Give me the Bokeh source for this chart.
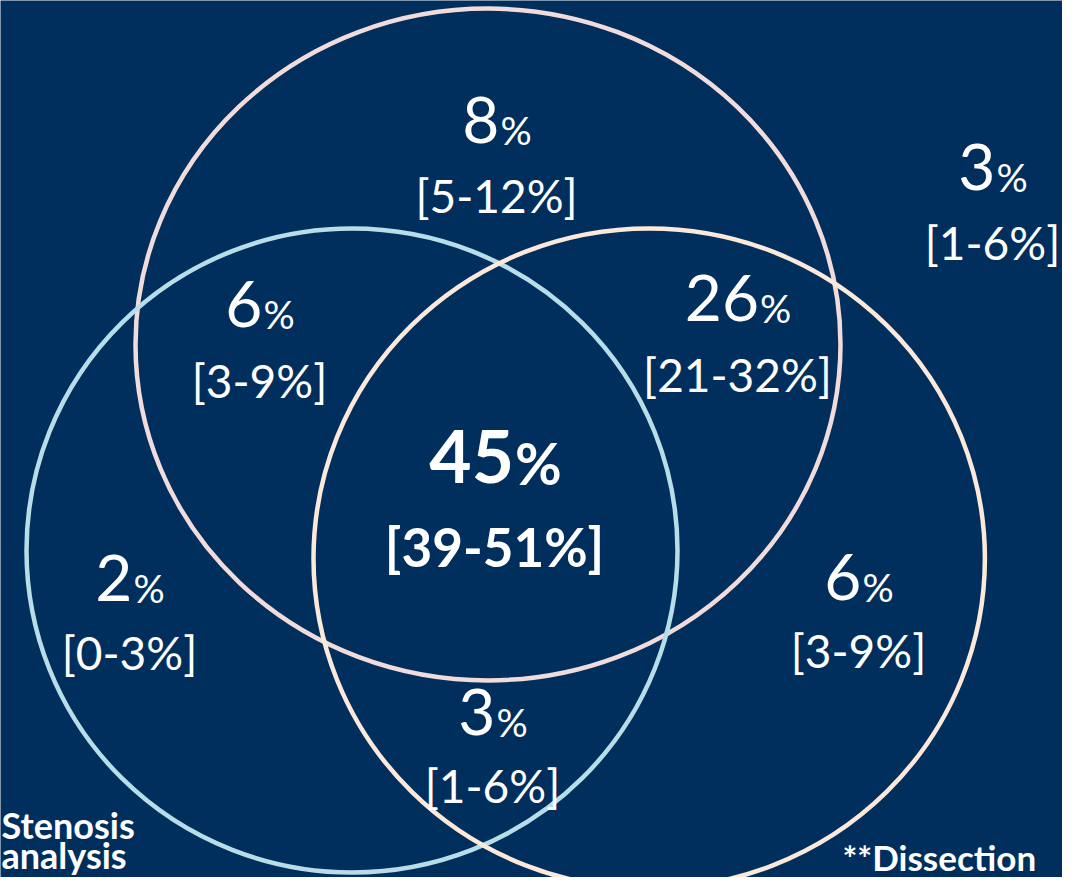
from bokeh.plotting import figure
from bokeh.models import ColumnDataSource, Range1d
from bokeh.core.properties import value
from bokeh.embed import file_html
from bokeh.resources import INLINE

# ---------------- data ----------------
region_names = ["Top only", "None", "Top & Left", "Top & Right", "All three",
                "Left only", "Right only", "Left & Right"]
pct = [8, 3, 6, 26, 45, 2, 6, 3]
ci_low = [5, 1, 3, 21, 39, 0, 3, 1]
ci_high = [12, 6, 9, 32, 51, 3, 9, 6]
emphasis = [False, False, False, False, True, False, False, False]

caption_text = ["Stenosis", "analysis", "**Dissection"]

# ---------------- layout (reference pixel space) ----------------
label_x = [496, 992, 259, 737, 494, 129, 858, 492]
num_base = [145, 192, 329, 323, 485, 603, 602, 737]
ci_base = [213, 260, 398, 392, 567, 670, 668, 803]

circle_cx = [487.5, 351.5, 648.7]
circle_cy = [344, 550, 558]
circle_rx = [352.5, 325.5, 335.7]
circle_ry = [336, 322, 330]
circle_color = ["#f2dcdb", "#b7dee8", "#fde9d9"]

caption_x = [1, 1, 842]
caption_y = [839, 869, 870]
caption_fs = [36, 36, 35]

BG = "#002f5e"
FONT = "Lato"
FIX = 0.4   # empirical baseline correction (fraction of font size)

W, H = 1062, 877
p = figure(width=W, height=H, output_backend="svg", toolbar_location=None,
           x_range=Range1d(0, W), y_range=Range1d(H, 0),
           min_border=0, min_border_left=0, min_border_right=0,
           min_border_top=0, min_border_bottom=0)
p.axis.visible = False
p.grid.visible = False
p.outline_line_color = None
p.background_fill_color = BG
p.border_fill_color = BG

# circles
csrc = ColumnDataSource(dict(x=circle_cx, y=circle_cy,
                             w=[2 * r for r in circle_rx],
                             h=[2 * r for r in circle_ry],
                             c=circle_color))
p.ellipse(x="x", y="y", width="w", height="h", source=csrc,
          fill_alpha=0, line_color="c", line_width=4.5)

# labels
num_x, pct_x, num_y, pct_y, ci_y = [], [], [], [], []
num_txt, pct_txt, ci_txt = [], [], []
num_fs, pct_fs, ci_fs, styles = [], [], [], []
for i, v in enumerate(pct):
    b = emphasis[i]
    fn = 73 if b else 64
    fp = 57 if b else 39
    fc = 53 if b else 46
    wn = len(str(v)) * 0.58 * fn
    wp = 0.80 * fp
    left = label_x[i] - (wn + wp) / 2
    split = left + wn
    num_x.append(split)
    pct_x.append(split + 1)
    num_y.append(num_base[i] - FIX * fn)
    pct_y.append(num_base[i] - FIX * fp)
    ci_y.append(ci_base[i] - FIX * fc)
    num_txt.append(str(v))
    pct_txt.append("%")
    ci_txt.append(f"[{ci_low[i]}-{ci_high[i]}%]")
    num_fs.append(f"{fn}px")
    pct_fs.append(f"{fp}px")
    ci_fs.append(f"{fc}px")
    styles.append("bold" if b else "normal")

src = ColumnDataSource(dict(nx=num_x, px=pct_x, cx=label_x, ny=num_y,
                            py=pct_y, cy=ci_y, nt=num_txt, pt=pct_txt,
                            ct=ci_txt, nfs=num_fs, pfs=pct_fs, cfs=ci_fs,
                            st=styles))
p.text(x="nx", y="ny", text="nt", source=src, text_font=value(FONT),
       text_font_size="nfs", text_font_style="st", text_color="white",
       text_align="right", text_baseline="alphabetic")
p.text(x="px", y="py", text="pt", source=src, text_font=value(FONT),
       text_font_size="pfs", text_font_style="st", text_color="white",
       text_align="left", text_baseline="alphabetic")
p.text(x="cx", y="cy", text="ct", source=src, text_font=value(FONT),
       text_font_size="cfs", text_font_style="st", text_color="white",
       text_align="center", text_baseline="alphabetic")

# captions
capsrc = ColumnDataSource(dict(
    x=caption_x,
    y=[y - FIX * f for y, f in zip(caption_y, caption_fs)],
    t=caption_text,
    fs=[f"{f}px" for f in caption_fs]))
p.text(x="x", y="y", text="t", source=capsrc, text_font=value(FONT),
       text_font_size="fs", text_font_style="bold", text_color="white",
       text_align="left", text_baseline="alphabetic")

open("out.html", "w").write(file_html(p, INLINE))
